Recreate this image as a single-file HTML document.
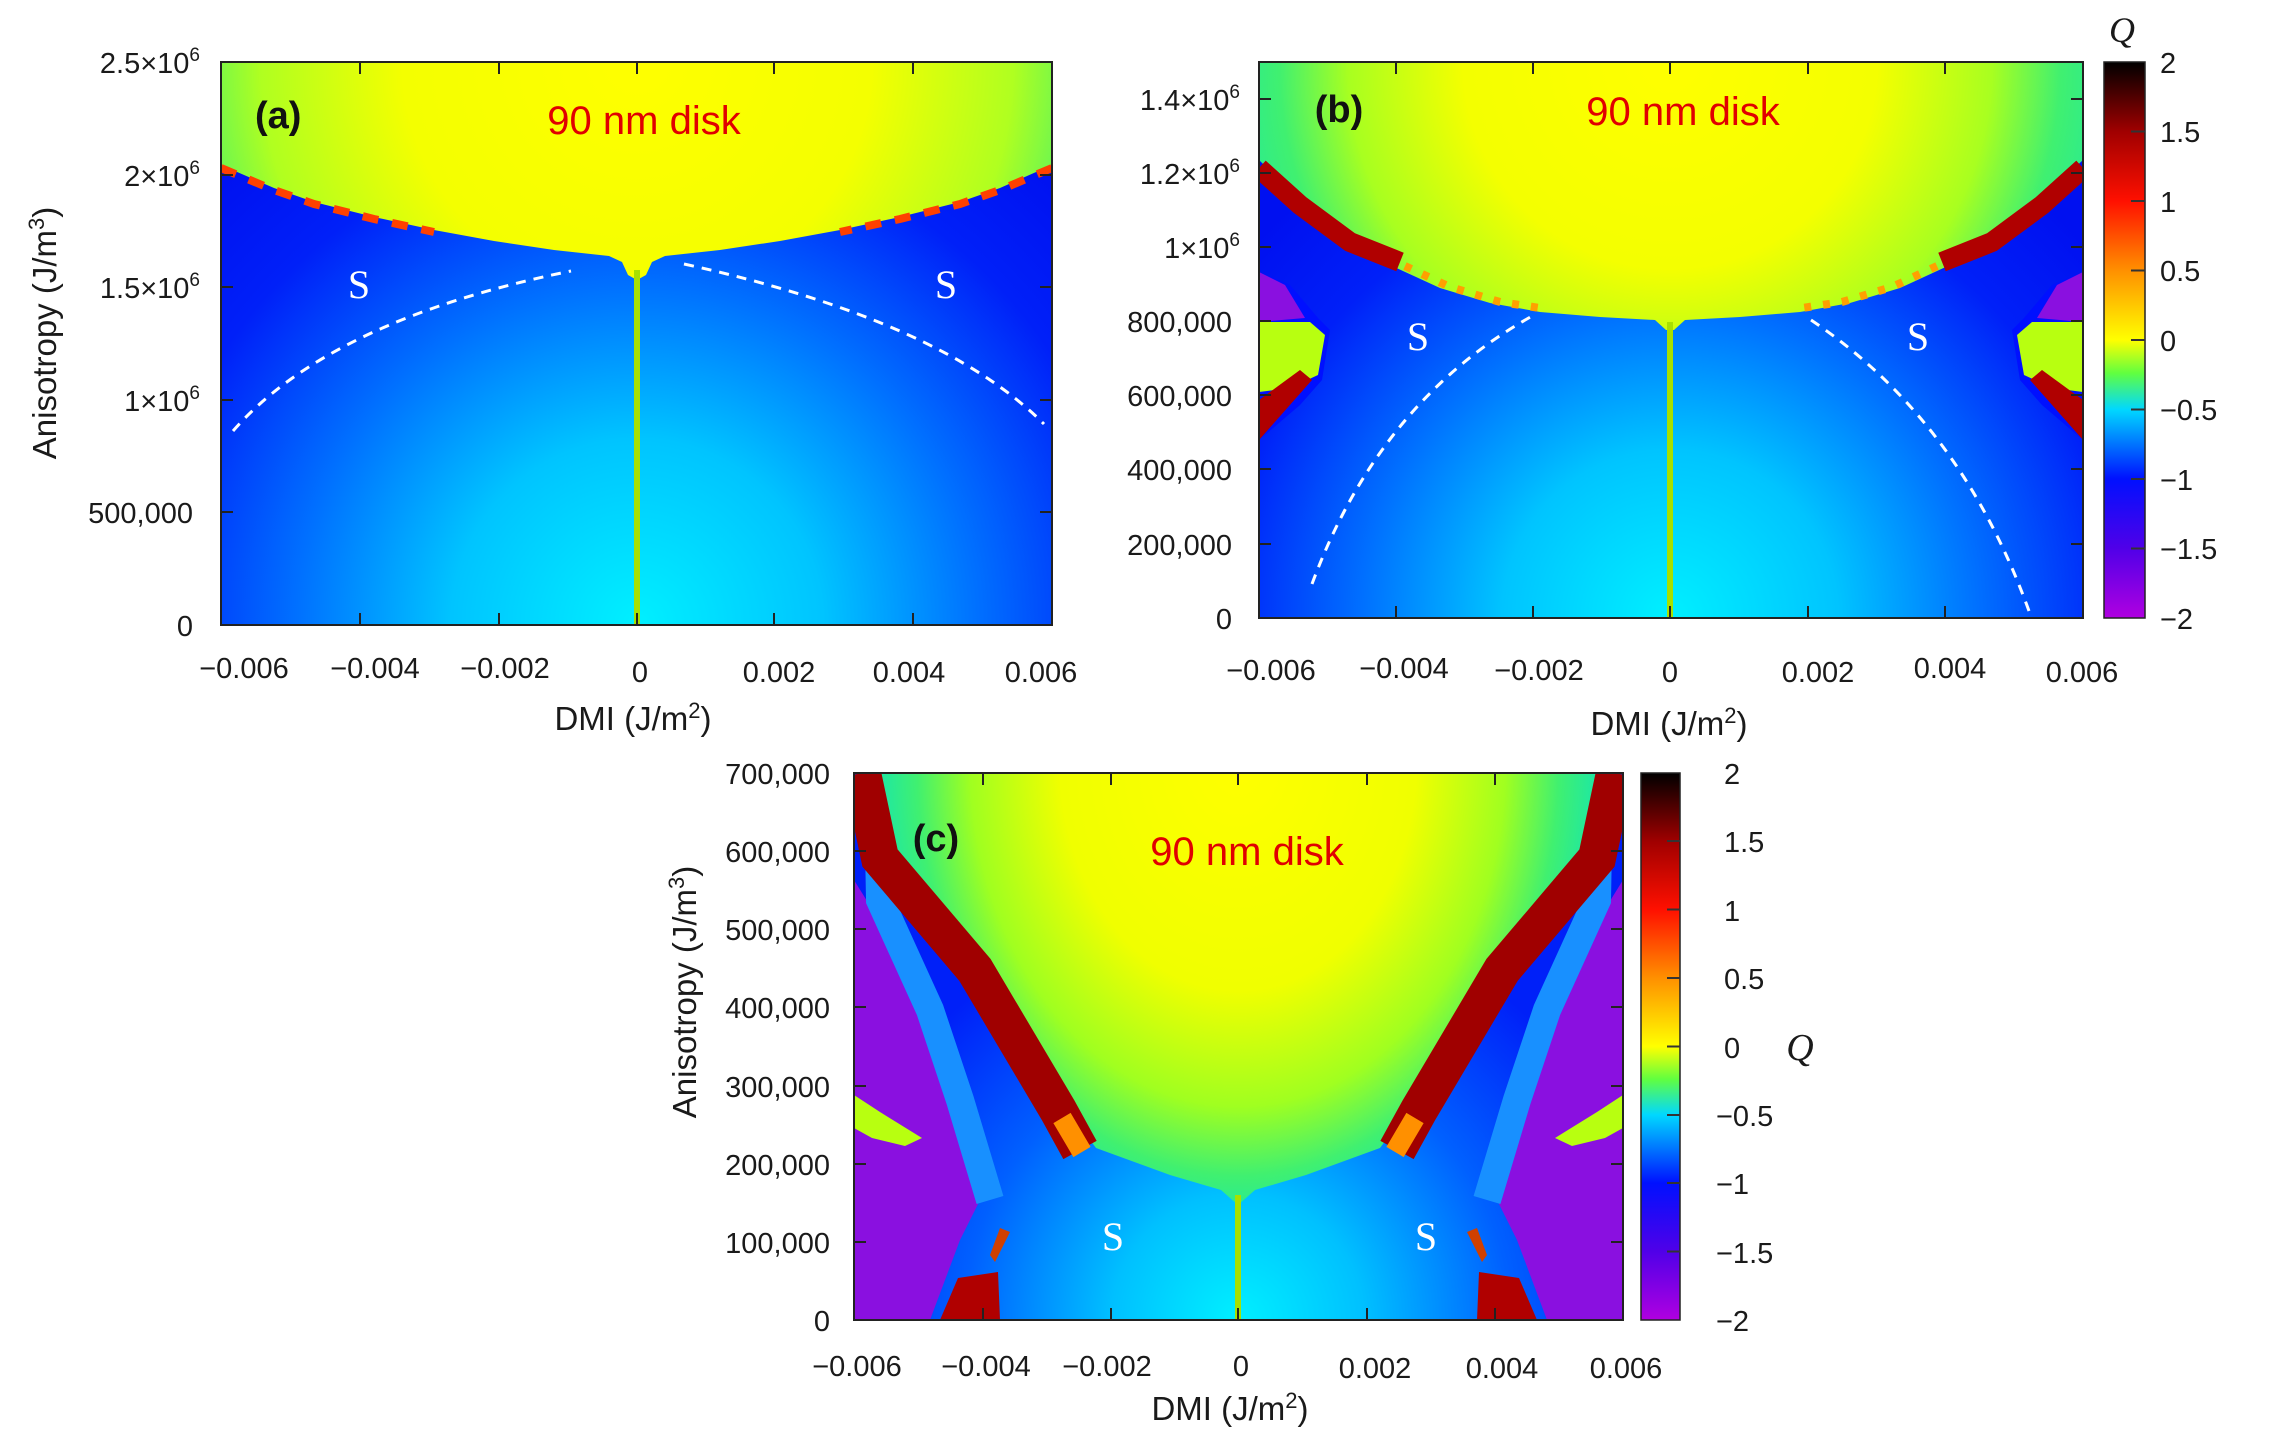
<!DOCTYPE html>
<html><head><meta charset="utf-8"><style>
html,body{margin:0;padding:0;background:#fff;}
svg{display:block;}
text{font-family:"Liberation Sans",sans-serif;fill:#1a1a1a;}
.t{font-size:29px;}
.ti{font-size:33px;}
.s{font-family:"Liberation Serif",serif;fill:#fff;font-size:40px;}
.d{fill:#e00000;font-size:40px;}
.p{font-weight:bold;font-size:38px;fill:#111;}
</style></head><body>
<svg width="2283" height="1451" viewBox="0 0 2283 1451" xmlns="http://www.w3.org/2000/svg">
<defs>
<radialGradient id="bgA" gradientUnits="userSpaceOnUse" cx="637" cy="625" r="620">
<stop offset="0" stop-color="#00f0ff"/><stop offset="0.3" stop-color="#00c4ff"/><stop offset="0.55" stop-color="#0070ff"/><stop offset="0.8" stop-color="#0020f8"/><stop offset="1" stop-color="#0010f0"/></radialGradient>
<radialGradient id="domeA" gradientUnits="userSpaceOnUse" cx="637" cy="60" r="470">
<stop offset="0" stop-color="#ffff00"/><stop offset="0.5" stop-color="#f4ff00"/><stop offset="0.8" stop-color="#b0ff20"/><stop offset="1" stop-color="#40f070"/></radialGradient>
<radialGradient id="bgB" gradientUnits="userSpaceOnUse" cx="1670" cy="618" r="560">
<stop offset="0" stop-color="#00f0ff"/><stop offset="0.3" stop-color="#00c4ff"/><stop offset="0.55" stop-color="#0070ff"/><stop offset="0.8" stop-color="#0020f8"/><stop offset="1" stop-color="#0010f0"/></radialGradient>
<radialGradient id="domeB" gradientUnits="userSpaceOnUse" cx="1670" cy="62" r="460">
<stop offset="0" stop-color="#ffff00"/><stop offset="0.45" stop-color="#f4ff00"/><stop offset="0.7" stop-color="#a8ff20"/><stop offset="0.85" stop-color="#40f070"/><stop offset="1" stop-color="#20e8a0"/></radialGradient>
<radialGradient id="bgC" gradientUnits="userSpaceOnUse" cx="1238" cy="1320" r="420">
<stop offset="0" stop-color="#00f0ff"/><stop offset="0.3" stop-color="#00c0ff"/><stop offset="0.65" stop-color="#0060ff"/><stop offset="1" stop-color="#0020f8"/></radialGradient>
<radialGradient id="domeC" gradientUnits="userSpaceOnUse" cx="1238" cy="760" r="420" gradientTransform="translate(1238 760) scale(0.85 1.1) translate(-1238 -760)">
<stop offset="0" stop-color="#ffff00"/><stop offset="0.5" stop-color="#f0ff00"/><stop offset="0.75" stop-color="#a0ff20"/><stop offset="0.9" stop-color="#40f070"/><stop offset="1" stop-color="#20e8a0"/></radialGradient>
<linearGradient id="cb" x1="0" y1="0" x2="0" y2="1">
<stop offset="0" stop-color="#000000"/><stop offset="0.125" stop-color="#a00000"/><stop offset="0.25" stop-color="#ff1000"/><stop offset="0.375" stop-color="#ff9000"/><stop offset="0.5" stop-color="#ffff00"/><stop offset="0.56" stop-color="#60ff40"/><stop offset="0.625" stop-color="#00d8ff"/><stop offset="0.75" stop-color="#0010ff"/><stop offset="0.875" stop-color="#5000e8"/><stop offset="1" stop-color="#b000e0"/></linearGradient>
<clipPath id="cA"><rect x="221" y="62" width="831" height="563"/></clipPath>
<clipPath id="cB"><rect x="1259" y="62" width="824" height="556"/></clipPath>
<clipPath id="cC"><rect x="854" y="773" width="769" height="547"/></clipPath>
</defs>

<!-- Panel A -->
<g clip-path="url(#cA)">
<rect x="221" y="62" width="831" height="563" fill="url(#bgA)"/>
<path d="M221,62 H1052 V165 L1000,188 960,202 900,217 840,230 780,241 720,250 665,256 652,262 646,275 637,280 628,275 622,262 609,256 554,250 494,241 434,230 374,217 314,202 274,188 221,165 Z" fill="url(#domeA)"/>
<path d="M221,168 L274,190 314,204 374,219 434,232" fill="none" stroke="#ff4000" stroke-width="8" stroke-dasharray="16 14"/>
<path d="M1052,168 L1000,190 960,204 900,219 840,232" fill="none" stroke="#ff4000" stroke-width="8" stroke-dasharray="16 14"/>
<rect x="634" y="270" width="6" height="355" fill="#a8e000"/>
<path d="M233,431 Q330,320 571,271" fill="none" stroke="#fff" stroke-width="3" stroke-dasharray="10 8"/>
<path d="M684,264 Q940,320 1044,424" fill="none" stroke="#fff" stroke-width="3" stroke-dasharray="10 8"/>
</g>
<rect x="221" y="62" width="831" height="563" fill="none" stroke="#222" stroke-width="2"/>
<g stroke="#222" stroke-width="2">
<path d="M360,62v12M499,62v12M637,62v12M774,62v12M913,62v12M360,625v-12M499,625v-12M637,625v-12M774,625v-12M913,625v-12"/>
<path d="M221,175h12M221,287h12M221,400h12M221,512h12M1052,175h-12M1052,287h-12M1052,400h-12M1052,512h-12"/>
</g>
<text class="p" x="255" y="128">(a)</text>
<text class="d" x="644" y="134" text-anchor="middle">90 nm disk</text>
<text class="s" x="359" y="298" text-anchor="middle">S</text>
<text class="s" x="946" y="298" text-anchor="middle">S</text>
<g class="t" text-anchor="end">
<text x="200" y="73">2.5×10<tspan font-size="19" dy="-12">6</tspan></text>
<text x="200" y="186">2×10<tspan font-size="19" dy="-12">6</tspan></text>
<text x="200" y="298">1.5×10<tspan font-size="19" dy="-12">6</tspan></text>
<text x="200" y="411">1×10<tspan font-size="19" dy="-12">6</tspan></text>
<text x="193" y="523">500,000</text>
<text x="193" y="636">0</text>
</g>
<g class="t" text-anchor="middle">
<text x="244" y="678">−0.006</text><text x="375" y="678">−0.004</text><text x="505" y="678">−0.002</text><text x="640" y="682">0</text><text x="779" y="682">0.002</text><text x="909" y="682">0.004</text><text x="1041" y="682">0.006</text>
</g>
<text class="ti" x="633" y="730" text-anchor="middle">DMI (J/m<tspan font-size="22" dy="-12">2</tspan><tspan dy="12">)</tspan></text>
<text class="ti" transform="translate(56,333) rotate(-90)" text-anchor="middle">Anisotropy (J/m<tspan font-size="22" dy="-12">3</tspan><tspan dy="12">)</tspan></text>

<!-- Panel B -->
<g clip-path="url(#cB)">
<rect x="1259" y="62" width="824" height="556" fill="url(#bgB)"/>
<path d="M1259,62 H2083 V160 L2040,200 1990,240 1950,265 1900,288 1850,303 1800,312 1740,317 1685,320 1674,330 1666,330 1655,320 1600,317 1540,312 1490,303 1440,288 1390,265 1350,240 1300,200 1259,160 Z" fill="url(#domeB)"/>
<path d="M1259,168 L1300,205 1350,242 1400,262" fill="none" stroke="#b00000" stroke-width="20"/>
<path d="M1405,266 L1450,287 1500,302 1540,308" fill="none" stroke="#ffa000" stroke-width="8" stroke-dasharray="7 12"/>
<path d="M2083,168 L2042,205 1992,242 1942,262" fill="none" stroke="#b00000" stroke-width="20"/>
<path d="M1937,266 L1892,287 1842,302 1802,308" fill="none" stroke="#ffa000" stroke-width="8" stroke-dasharray="7 12"/>
<path d="M1259,272 L1290,285 1318,318 1330,330 1322,380 1300,405 1259,440 Z" fill="#0010ff"/>
<path d="M1259,272 L1285,285 1305,318 1259,322 Z" fill="#8a10e0"/>
<path d="M1259,322 L1310,322 1325,335 1318,375 1290,388 1259,392 Z" fill="#b8ff10"/>
<path d="M1259,400 L1300,370 1312,380 1259,440 Z" fill="#b00000"/>
<path d="M2083,272 L2052,285 2024,318 2012,330 2020,380 2042,405 2083,440 Z" fill="#0010ff"/>
<path d="M2083,272 L2057,285 2037,318 2083,322 Z" fill="#8a10e0"/>
<path d="M2083,322 L2032,322 2017,335 2024,375 2052,388 2083,392 Z" fill="#b8ff10"/>
<path d="M2083,400 L2042,370 2030,380 2083,440 Z" fill="#b00000"/>
<rect x="1667" y="322" width="6" height="296" fill="#a8e000"/>
<path d="M1312,584 Q1380,400 1534,315" fill="none" stroke="#fff" stroke-width="3" stroke-dasharray="10 8"/>
<path d="M1811,320 Q1960,420 2029,611" fill="none" stroke="#fff" stroke-width="3" stroke-dasharray="10 8"/>
</g>
<rect x="1259" y="62" width="824" height="556" fill="none" stroke="#222" stroke-width="2"/>
<g stroke="#222" stroke-width="2">
<path d="M1396,62v12M1533,62v12M1670,62v12M1808,62v12M1945,62v12M1396,618v-12M1533,618v-12M1670,618v-12M1808,618v-12M1945,618v-12"/>
<path d="M1259,99h12M1259,173h12M1259,247h12M1259,321h12M1259,395h12M1259,469h12M1259,544h12M2083,99h-12M2083,173h-12M2083,247h-12M2083,321h-12M2083,395h-12M2083,469h-12M2083,544h-12"/>
</g>
<text class="p" x="1339" y="122" text-anchor="middle">(b)</text>
<text class="d" x="1683" y="125" text-anchor="middle">90 nm disk</text>
<text class="s" x="1418" y="350" text-anchor="middle">S</text>
<text class="s" x="1918" y="350" text-anchor="middle">S</text>
<g class="t" text-anchor="end">
<text x="1240" y="110">1.4×10<tspan font-size="19" dy="-12">6</tspan></text>
<text x="1240" y="184">1.2×10<tspan font-size="19" dy="-12">6</tspan></text>
<text x="1240" y="258">1×10<tspan font-size="19" dy="-12">6</tspan></text>
<text x="1232" y="332">800,000</text>
<text x="1232" y="406">600,000</text>
<text x="1232" y="480">400,000</text>
<text x="1232" y="555">200,000</text>
<text x="1232" y="629">0</text>
</g>
<g class="t" text-anchor="middle">
<text x="1271" y="680">−0.006</text><text x="1404" y="678">−0.004</text><text x="1539" y="680">−0.002</text><text x="1670" y="682">0</text><text x="1818" y="682">0.002</text><text x="1950" y="678">0.004</text><text x="2082" y="682">0.006</text>
</g>
<text class="ti" x="1669" y="735" text-anchor="middle">DMI (J/m<tspan font-size="22" dy="-12">2</tspan><tspan dy="12">)</tspan></text>
<rect x="2104" y="62" width="41" height="556" fill="url(#cb)" stroke="#222" stroke-width="1.5"/>
<g stroke="#333" stroke-width="2">
<path d="M2131,131.5h14M2131,201h14M2131,270.5h14M2131,340h14M2131,409.5h14M2131,479h14M2131,548.5h14"/>
</g>
<text x="2122" y="42" text-anchor="middle" style="font-family:'Liberation Serif',serif;font-style:italic;font-size:36px;">Q</text>
<g class="t">
<text x="2160" y="73">2</text><text x="2160" y="142">1.5</text><text x="2160" y="212">1</text><text x="2160" y="281">0.5</text><text x="2160" y="351">0</text><text x="2160" y="420">−0.5</text><text x="2160" y="490">−1</text><text x="2160" y="559">−1.5</text><text x="2160" y="629">−2</text>
</g>

<!-- Panel C -->
<g clip-path="url(#cC)">
<rect x="854" y="773" width="769" height="547" fill="url(#bgC)"/>
<path d="M854,880 L885,930 923,1012 955,1090 985,1190 960,1240 930,1320 854,1320 Z" fill="#8a10e0"/>
<path d="M878,790 L880,900 930,1010 960,1100 990,1200" fill="none" stroke="#1890ff" stroke-width="28"/>
<path d="M854,1095 L880,1112 922,1138 905,1146 872,1138 854,1128 Z" fill="#b8ff10"/>
<path d="M940,1320 L958,1278 998,1272 1000,1320 Z" fill="#b00000"/>
<path d="M995,1262 L1010,1232 1000,1228 990,1255 Z" fill="#d04000"/>
<path d="M1623,880 L1592,930 1554,1012 1522,1090 1492,1190 1517,1240 1547,1320 1623,1320 Z" fill="#8a10e0"/>
<path d="M1599,790 L1597,900 1547,1010 1517,1100 1487,1200" fill="none" stroke="#1890ff" stroke-width="28"/>
<path d="M1623,1095 L1597,1112 1555,1138 1572,1146 1605,1138 1623,1128 Z" fill="#b8ff10"/>
<path d="M1537,1320 L1519,1278 1479,1272 1477,1320 Z" fill="#b00000"/>
<path d="M1482,1262 L1467,1232 1477,1228 1487,1255 Z" fill="#d04000"/>
<path d="M880,773 H1597 L1580,858 1490,967 1408,1110 1380,1148 1306,1175 1255,1190 1238,1205 1221,1190 1170,1175 1096,1148 1068,1110 986,967 896,858 Z" fill="url(#domeC)"/>
<path d="M862,773 L880,858 975,970 1058,1110 1080,1150" fill="none" stroke="#a00000" stroke-width="38"/>
<path d="M1062,1118 L1082,1152" stroke="#ff9000" stroke-width="20"/>
<path d="M1615,773 L1597,858 1502,970 1419,1110 1397,1150" fill="none" stroke="#a00000" stroke-width="38"/>
<path d="M1415,1118 L1395,1152" stroke="#ff9000" stroke-width="20"/>
<rect x="1235" y="1195" width="6" height="125" fill="#a8e000"/>
</g>
<rect x="854" y="773" width="769" height="547" fill="none" stroke="#222" stroke-width="2"/>
<g stroke="#222" stroke-width="2">
<path d="M983,773v12M1111,773v12M1238,773v12M1367,773v12M1495,773v12M983,1320v-12M1111,1320v-12M1238,1320v-12M1367,1320v-12M1495,1320v-12"/>
<path d="M854,851h12M854,929h12M854,1007h12M854,1086h12M854,1164h12M854,1242h12M1623,851h-12M1623,929h-12M1623,1007h-12M1623,1086h-12M1623,1164h-12M1623,1242h-12"/>
</g>
<text class="p" x="936" y="851" text-anchor="middle">(c)</text>
<text class="d" x="1247" y="865" text-anchor="middle">90 nm disk</text>
<text class="s" x="1113" y="1250" text-anchor="middle">S</text>
<text class="s" x="1426" y="1250" text-anchor="middle">S</text>
<g class="t" text-anchor="end">
<text x="830" y="784">700,000</text><text x="830" y="862">600,000</text><text x="830" y="940">500,000</text><text x="830" y="1018">400,000</text><text x="830" y="1097">300,000</text><text x="830" y="1175">200,000</text><text x="830" y="1253">100,000</text><text x="830" y="1331">0</text>
</g>
<g class="t" text-anchor="middle">
<text x="857" y="1376">−0.006</text><text x="986" y="1376">−0.004</text><text x="1107" y="1376">−0.002</text><text x="1241" y="1376">0</text><text x="1375" y="1378">0.002</text><text x="1502" y="1378">0.004</text><text x="1626" y="1378">0.006</text>
</g>
<text class="ti" x="1230" y="1420" text-anchor="middle">DMI (J/m<tspan font-size="22" dy="-12">2</tspan><tspan dy="12">)</tspan></text>
<text class="ti" transform="translate(696,992) rotate(-90)" text-anchor="middle">Anisotropy (J/m<tspan font-size="22" dy="-12">3</tspan><tspan dy="12">)</tspan></text>
<rect x="1641" y="773" width="39" height="547" fill="url(#cb)" stroke="#222" stroke-width="1.5"/>
<g stroke="#333" stroke-width="2">
<path d="M1667,841h13M1667,909.5h13M1667,978h13M1667,1046.5h13M1667,1115h13M1667,1183h13M1667,1251.5h13"/>
</g>
<g class="t">
<text x="1724" y="784">2</text><text x="1724" y="852">1.5</text><text x="1724" y="921">1</text><text x="1724" y="989">0.5</text><text x="1724" y="1058">0</text><text x="1716" y="1126">−0.5</text><text x="1716" y="1194">−1</text><text x="1716" y="1263">−1.5</text><text x="1716" y="1331">−2</text>
</g>
<text x="1800" y="1060" text-anchor="middle" style="font-family:'Liberation Serif',serif;font-style:italic;font-size:38px;">Q</text>
</svg>
</body></html>
